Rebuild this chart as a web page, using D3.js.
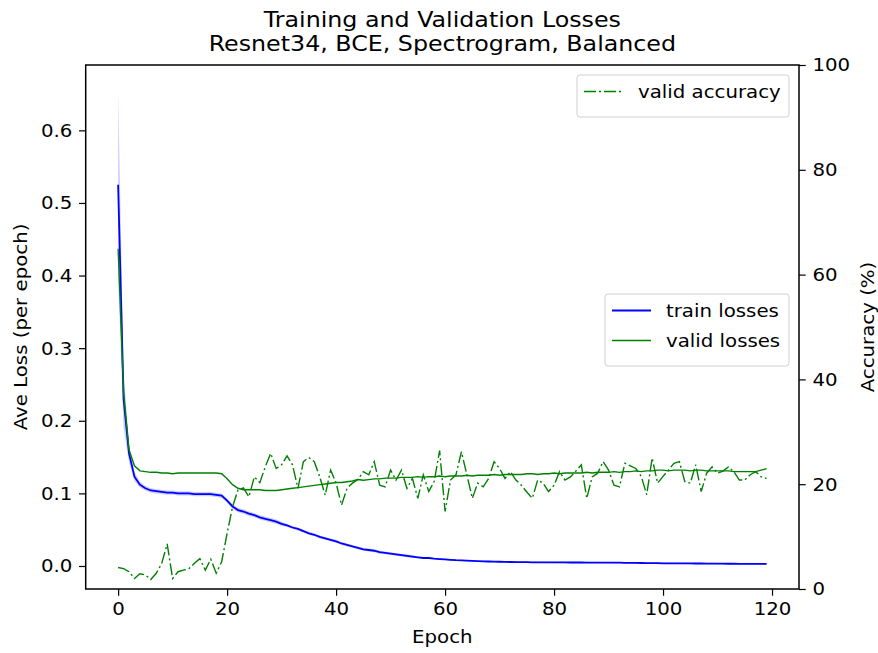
<!DOCTYPE html>
<html lang="en">
  <head>
    <meta charset="utf-8" />
    <title>Training and Validation Losses</title>
    <script type="text/javascript" src="https://d3js.org/d3.v7.min.js"></script>
    <style>
      body { margin: 0; background: #fff; }
      text { font-family: "DejaVu Sans", sans-serif; fill: #000; }
    </style>
  </head>
  <body>
    <script type="text/javascript">
      // Figure size and plot box
      const WIDTH = 878;
      const HEIGHT = 653;
      const MARGIN = { top: 65, right: 79, bottom: 64, left: 85.7 };
      const FONT = 18.3;
      const STRETCH = 1.08; // text in the picture is a bit wider than tall
      const TICK_LEN = 6.7;

      // Data, one value per epoch (0..119)
      const trainLoss = [
        0.525, 0.230, 0.155, 0.123, 0.112, 0.107, 0.104, 0.103, 0.102, 0.101,
        0.101, 0.100, 0.100, 0.100, 0.099, 0.099, 0.099, 0.099, 0.098, 0.097,
        0.090, 0.082, 0.077, 0.075, 0.072, 0.070, 0.067, 0.065, 0.063, 0.061,
        0.058, 0.056, 0.053, 0.051, 0.048, 0.045, 0.043, 0.040, 0.038, 0.036,
        0.034, 0.031, 0.029, 0.027, 0.025, 0.023, 0.022, 0.021, 0.019, 0.018,
        0.017, 0.016, 0.015, 0.014, 0.013, 0.012, 0.011, 0.011, 0.010, 0.0095,
        0.0090, 0.0085, 0.0080, 0.0077, 0.0073, 0.0070, 0.0067, 0.0064, 0.0062, 0.0060,
        0.0058, 0.0056, 0.0055, 0.0054, 0.0053, 0.0052, 0.0051, 0.0050, 0.0050, 0.0050,
        0.0049, 0.0049, 0.0049, 0.0048, 0.0048, 0.0048, 0.0047, 0.0047, 0.0047, 0.0046,
        0.0046, 0.0045, 0.0045, 0.0044, 0.0043, 0.0042, 0.0041, 0.0040, 0.0039, 0.0038,
        0.0037, 0.0037, 0.0036, 0.0036, 0.0035, 0.0035, 0.0034, 0.0034, 0.0033, 0.0033,
        0.0032, 0.0032, 0.0031, 0.0031, 0.0030, 0.0030, 0.0029, 0.0029, 0.0028, 0.0028
      ];
      const trainStd = [
        0.130, 0.040, 0.012, 0.006, 0.004, 0.003, 0.003, 0.003, 0.003, 0.003,
        0.003, 0.003, 0.003, 0.003, 0.003, 0.003, 0.003, 0.003, 0.003, 0.003,
        0.003, 0.003, 0.003, 0.003, 0.003, 0.003, 0.003, 0.003, 0.003, 0.003,
        0.003, 0.002, 0.002, 0.002, 0.002, 0.002, 0.002, 0.002, 0.002, 0.002,
        0.002, 0.002, 0.002, 0.002, 0.002, 0.002, 0.002, 0.002, 0.002, 0.002,
        0.002, 0.002, 0.002, 0.002, 0.002, 0.001, 0.001, 0.001, 0.001, 0.001,
        0.001, 0.001, 0.001, 0.001, 0.001, 0.001, 0.001, 0.001, 0.001, 0.001,
        0.001, 0.001, 0.001, 0.001, 0.001, 0.001, 0.001, 0.001, 0.001, 0.001,
        0.001, 0.001, 0.001, 0.001, 0.001, 0.001, 0.001, 0.001, 0.001, 0.001,
        0.001, 0.001, 0.001, 0.001, 0.001, 0.001, 0.001, 0.001, 0.001, 0.001,
        0.001, 0.001, 0.001, 0.001, 0.001, 0.001, 0.001, 0.001, 0.001, 0.001,
        0.001, 0.001, 0.001, 0.001, 0.001, 0.001, 0.001, 0.001, 0.001, 0.001
      ];
      const validLoss = [
        0.437, 0.240, 0.160, 0.138, 0.131, 0.130, 0.129, 0.129, 0.128, 0.128,
        0.127, 0.128, 0.128, 0.128, 0.128, 0.128, 0.128, 0.128, 0.128, 0.127,
        0.120, 0.112, 0.107, 0.105, 0.105, 0.105, 0.105, 0.104, 0.104, 0.104,
        0.105, 0.106, 0.107, 0.108, 0.109, 0.110, 0.111, 0.112, 0.113, 0.114,
        0.115, 0.115, 0.116, 0.117, 0.119, 0.118, 0.119, 0.120, 0.120, 0.121,
        0.121, 0.121, 0.122, 0.122, 0.122, 0.123, 0.122, 0.123, 0.123, 0.124,
        0.123, 0.124, 0.124, 0.124, 0.125, 0.124, 0.125, 0.125, 0.125, 0.126,
        0.125, 0.126, 0.126, 0.126, 0.126, 0.127, 0.127, 0.126, 0.127, 0.127,
        0.128, 0.127, 0.128, 0.128, 0.128, 0.128, 0.129, 0.128, 0.129, 0.129,
        0.129, 0.130, 0.129, 0.130, 0.130, 0.131, 0.130, 0.131, 0.131, 0.132,
        0.132, 0.131, 0.132, 0.132, 0.132, 0.131, 0.132, 0.132, 0.131, 0.131,
        0.131, 0.131, 0.131, 0.130, 0.130, 0.130, 0.130, 0.130, 0.132, 0.134
      ];
      const validAcc = [
        4.1, 3.9, 3.3, 2.0, 2.9, 2.7, 1.8, 3.0, 4.9, 8.6,
        2.0, 3.3, 3.6, 3.9, 4.9, 5.8, 3.6, 5.7, 3.0, 5.2,
        10.6, 15.7, 18.9, 19.3, 17.6, 21.4, 20.3, 23.3, 25.9, 23.0,
        23.7, 25.4, 23.7, 19.2, 24.3, 25.1, 24.3, 21.4, 17.9, 22.7,
        20.2, 16.0, 19.2, 20.2, 20.9, 22.4, 21.8, 24.3, 19.8, 19.5,
        22.7, 20.8, 22.7, 19.2, 21.1, 17.3, 21.8, 18.6, 20.5, 26.4,
        14.8, 20.8, 21.8, 26.2, 21.8, 17.3, 20.2, 19.5, 21.1, 24.3,
        23.0, 21.1, 22.4, 20.8, 19.8, 18.5, 17.3, 20.8, 20.2, 18.6,
        19.8, 22.4, 20.8, 21.4, 22.5, 23.7, 17.3, 21.4, 22.1, 24.3,
        22.7, 19.8, 19.5, 24.0, 23.5, 23.0, 21.5, 18.0, 25.0, 20.2,
        21.5, 22.7, 24.0, 24.3, 20.5, 20.2, 23.7, 18.6, 22.1, 23.3,
        22.1, 22.5, 23.3, 22.4, 20.8, 20.8, 21.8, 22.4, 21.4, 21.1
      ];

      // Ticks and labels
      const xTicks = [0, 20, 40, 60, 80, 100, 120];
      const lossTicks = [0.0, 0.1, 0.2, 0.3, 0.4, 0.5, 0.6];
      const accTicks = [0, 20, 40, 60, 80, 100];
      const titleLines = ["Training and Validation Losses", "Resnet34, BCE, Spectrogram, Balanced"];

      const innerW = WIDTH - MARGIN.left - MARGIN.right;
      const innerH = HEIGHT - MARGIN.top - MARGIN.bottom;

      const svg = d3
        .select("body")
        .append("svg")
        .attr("width", WIDTH)
        .attr("height", HEIGHT);

      const g = svg.append("g").attr("transform", `translate(${MARGIN.left},${MARGIN.top})`);

      // matplotlib style autoscaled limits
      const x = d3.scaleLinear().domain([-5.95, 124.95]).range([0, innerW]);
      const yLoss = d3.scaleLinear().domain([-0.0317, 0.690]).range([innerH, 0]);
      const yAcc = d3.scaleLinear().domain([0, 100]).range([innerH, 0]);

      const epochs = d3.range(trainLoss.length);

      // training band (mean +- std)
      const band = d3
        .area()
        .x((i) => x(i))
        .y0((i) => yLoss(trainLoss[i] - trainStd[i]))
        .y1((i) => yLoss(trainLoss[i] + trainStd[i]));
      g.append("path").datum(epochs).attr("d", band).attr("fill", "blue").attr("fill-opacity", 0.2);

      const lossLine = (arr) => d3.line().x((i) => x(i)).y((i) => yLoss(arr[i]));
      g.append("path")
        .datum(epochs)
        .attr("d", lossLine(trainLoss))
        .attr("fill", "none")
        .attr("stroke", "blue")
        .attr("stroke-width", 1.8);
      g.append("path")
        .datum(epochs)
        .attr("d", lossLine(validLoss))
        .attr("fill", "none")
        .attr("stroke", "green")
        .attr("stroke-width", 1.4);

      // accuracy on the twin axis
      g.append("path")
        .datum(epochs)
        .attr("d", d3.line().x((i) => x(i)).y((i) => yAcc(validAcc[i])))
        .attr("fill", "none")
        .attr("stroke", "green")
        .attr("stroke-width", 1.4)
        .attr("stroke-dasharray", "12,3,2,3");

      // put a text at (tx, ty) and widen it a little
      function placeText(sel, tx, ty, rot) {
        return sel.attr("x", null).attr("y", null)
          .attr("transform", `translate(${tx},${ty})${rot ? " rotate(" + rot + ")" : ""} scale(${STRETCH},1)`);
      }

      // axes
      function styleAxis(sel, side) {
        sel.select(".domain").remove();
        sel.selectAll(".tick line").attr("stroke", "#000").attr("stroke-width", 1.2);
        sel.selectAll(".tick text").each(function () {
          const t = d3.select(this);
          const tx = +t.attr("x") || 0;
          const ty = +t.attr("y") || 0;
          placeText(t, tx, ty);
        })
          .attr("font-size", FONT).attr("font-family", "DejaVu Sans").attr("fill", "#000");
      }
      g.append("g")
        .attr("transform", `translate(0,${innerH})`)
        .call(d3.axisBottom(x).tickValues(xTicks).tickFormat(d3.format("d")).tickSize(TICK_LEN).tickPadding(6.7))
        .call(styleAxis);
      g.append("g")
        .call(d3.axisLeft(yLoss).tickValues(lossTicks).tickFormat(d3.format(".1f")).tickSize(TICK_LEN).tickPadding(6.7))
        .call(styleAxis);
      g.append("g")
        .attr("transform", `translate(${innerW},0)`)
        .call(d3.axisRight(yAcc).tickValues(accTicks).tickFormat(d3.format("d")).tickSize(TICK_LEN).tickPadding(6.7))
        .call(styleAxis);

      // frame
      g.append("rect")
        .attr("width", innerW)
        .attr("height", innerH)
        .attr("fill", "none")
        .attr("stroke", "#000")
        .attr("stroke-width", 1.5);

      // titles
      titleLines.forEach((line, i) => {
        svg.append("text")
          .attr("text-anchor", "middle")
          .attr("font-size", 22)
          .text(line)
          .call(placeText, MARGIN.left + innerW / 2, 27 + i * 24);
      });

      svg.append("text")
        .attr("text-anchor", "middle")
        .attr("font-size", FONT)
        .text("Epoch")
        .call(placeText, MARGIN.left + innerW / 2, 643);
      svg.append("text")
        .attr("text-anchor", "middle")
        .attr("font-size", FONT)
        .text("Ave Loss (per epoch)")
        .call(placeText, 27, MARGIN.top + innerH / 2, -90);
      svg.append("text")
        .attr("text-anchor", "middle")
        .attr("font-size", FONT)
        .text("Accuracy (%)")
        .call(placeText, 874, MARGIN.top + innerH / 2, -90);

      // legends
      function legend(x0, y0, w, items) {
        const lg = svg.append("g").attr("transform", `translate(${x0},${y0})`);
        lg.append("rect")
          .attr("width", w)
          .attr("height", 12 + items.length * 30)
          .attr("rx", 3)
          .attr("fill", "#fff")
          .attr("fill-opacity", 0.8)
          .attr("stroke", "#d0d0d0")
          .attr("stroke-width", 1);
        items.forEach((it, i) => {
          const cy = 16.5 + i * 30;
          lg.append("line")
            .attr("x1", 7)
            .attr("x2", 46)
            .attr("y1", cy)
            .attr("y2", cy)
            .attr("stroke", it.color)
            .attr("stroke-width", it.width)
            .attr("stroke-dasharray", it.dash || null);
          lg.append("text")
            .attr("font-size", FONT)
            .text(it.label)
            .call(placeText, 61, cy + 6);
        });
      }
      legend(577, 75, 212, [{ label: "valid accuracy", color: "green", width: 1.4, dash: "12,3,2,3" }]);
      legend(605, 294, 184, [
        { label: "train losses", color: "blue", width: 1.8 },
        { label: "valid losses", color: "green", width: 1.4 },
      ]);
    </script>
  </body>
</html>
